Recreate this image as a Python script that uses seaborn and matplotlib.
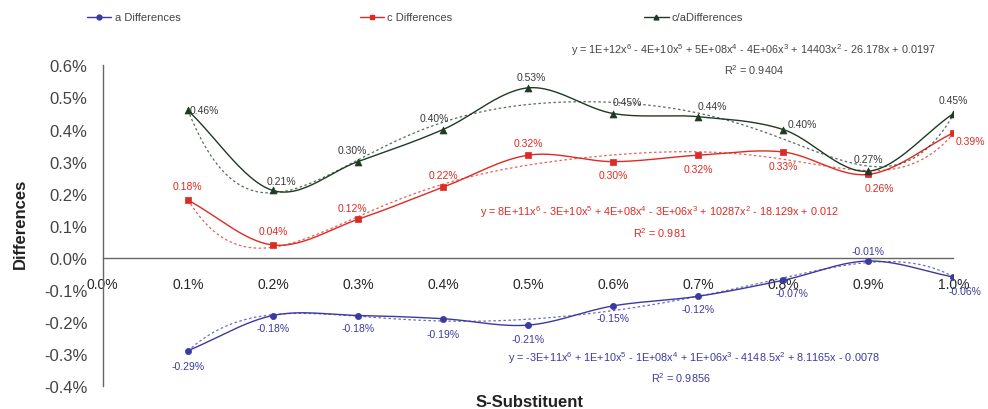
import numpy as np
import pandas as pd
import matplotlib
matplotlib.use("Agg")
import matplotlib.pyplot as plt
import seaborn as sns
from matplotlib.lines import Line2D

# ---- data ----
x_pct = [0.1, 0.2, 0.3, 0.4, 0.5, 0.6, 0.7, 0.8, 0.9, 1.0]
a_diff = [-0.29, -0.18, -0.18, -0.19, -0.21, -0.15, -0.12, -0.07, -0.01, -0.06]
c_diff = [0.18, 0.04, 0.12, 0.22, 0.32, 0.30, 0.32, 0.33, 0.26, 0.39]
ca_diff = [0.46, 0.21, 0.30, 0.40, 0.53, 0.45, 0.44, 0.40, 0.27, 0.45]
y_ticks = [-0.4, -0.3, -0.2, -0.1, 0.0, 0.1, 0.2, 0.3, 0.4, 0.5, 0.6]
x_ticks = [0.0, 0.1, 0.2, 0.3, 0.4, 0.5, 0.6, 0.7, 0.8, 0.9, 1.0]
series_names = ["a Differences", "c Differences", "c/aDifferences"]
eq_ca = "y = 1E+12x$^6$ - 4E+10x$^5$ + 5E+08x$^4$ - 4E+06x$^3$ + 14403x$^2$ - 26.178x + 0.0197"
r2_ca = "R$^2$ = 0.9404"
eq_c = "y = 8E+11x$^6$ - 3E+10x$^5$ + 4E+08x$^4$ - 3E+06x$^3$ + 10287x$^2$ - 18.129x + 0.012"
r2_c = "R$^2$ = 0.981"
eq_a = "y = -3E+11x$^6$ + 1E+10x$^5$ - 1E+08x$^4$ + 1E+06x$^3$ - 4148.5x$^2$ + 8.1165x - 0.0078"
r2_a = "R$^2$ = 0.9856"

sns.set_style("white")
plt.rcParams["font.family"] = ["Liberation Sans", "DejaVu Sans"]
plt.rcParams["mathtext.fontset"] = "custom"
plt.rcParams["mathtext.rm"] = "Liberation Sans"
plt.rcParams["mathtext.it"] = "Liberation Sans"

col_a = "#3a3aa0"
col_c = "#dd2a22"
col_ca = "#1f3a24"


def catmull(xs, ys, n=30, tension=0.5):
    xs = np.asarray(xs, float); ys = np.asarray(ys, float)
    P = np.column_stack([xs, ys])
    P = np.vstack([P[0] - (P[1] - P[0]), P, P[-1] + (P[-1] - P[-2])])
    out = []
    for i in range(1, len(P) - 2):
        p0, p1, p2, p3 = P[i - 1], P[i], P[i + 1], P[i + 2]
        m1 = tension * (p2 - p0)
        m2 = tension * (p3 - p1)
        t = np.linspace(0, 1, n, endpoint=(i == len(P) - 3))[:, None]
        h00 = 2 * t**3 - 3 * t**2 + 1
        h10 = t**3 - 2 * t**2 + t
        h01 = -2 * t**3 + 3 * t**2
        h11 = t**3 - t**2
        out.append(h00 * p1 + h10 * m1 + h01 * p2 + h11 * m2)
    o = np.vstack(out)
    return o[:, 0], o[:, 1]


fig = plt.figure(figsize=(9.88, 4.10), dpi=100)
ax = fig.add_axes([0.104, 0.056, 0.861, 0.782])

series = [(a_diff, col_a, "o", 4), (c_diff, col_c, "s", 5), (ca_diff, col_ca, "^", 5)]
for vals, col, mk, ms in series:
    # trendline: 6th-order polynomial fit
    coef = np.polyfit(x_pct, vals, 6)
    xt = np.linspace(min(x_pct), max(x_pct), 200)
    yt = np.polyval(coef, xt)
    sns.lineplot(x=xt, y=yt, ax=ax, color=col, lw=0.9, linestyle=(0, (2, 2)),
                 alpha=0.75, sort=False, errorbar=None)
    sx, sy = catmull(x_pct, vals)
    sns.lineplot(x=sx, y=sy, ax=ax, color=col, lw=1.0, sort=False, errorbar=None)
    sns.scatterplot(x=x_pct, y=vals, ax=ax, color=col, marker=mk, s=ms * 5,
                    edgecolor=col, linewidth=0.5, zorder=5)

# data labels (offsets in points)
ca_off = [(12, 0), (6, 7), (-4, 8), (-6, 8), (2, 8), (10, 8), (10, 8), (14, 4), (0, 9), (0, 10)]
c_off = [(0, 10), (0, 10), (-4, 8), (0, 9), (0, 9), (0, -10), (0, -10), (0, -10), (8, -10), (12, -6)]
a_off = [(0, -11), (0, -9), (0, -9), (0, -11), (0, -10), (0, -9), (0, -9), (6, -9), (0, 7), (8, -10)]
for vals, col, offs in [(ca_diff, "#3a3a3a", ca_off), (c_diff, col_c, c_off), (a_diff, col_a, a_off)]:
    for xv, yv, (dx, dy) in zip(x_pct, vals, offs):
        ax.annotate(f"{yv:.2f}%", (xv, yv), xytext=(dx, dy), textcoords="offset points",
                    ha="center", va="center", fontsize=7.5, color=col)

# trendline equations
ax.text(0.765, 0.650, eq_ca, ha="center", va="center", fontsize=7.8, color="#444444")
ax.text(0.765, 0.590, r2_ca, ha="center", va="center", fontsize=7.8, color="#444444")
ax.text(0.655, 0.145, eq_c, ha="center", va="center", fontsize=7.8, color=col_c)
ax.text(0.655, 0.080, r2_c, ha="center", va="center", fontsize=7.8, color=col_c)
ax.text(0.695, -0.310, eq_a, ha="center", va="center", fontsize=7.8, color=col_a)
ax.text(0.680, -0.372, r2_a, ha="center", va="center", fontsize=7.8, color=col_a)

# axes
ax.set_xlim(0, 1.0)
ax.set_ylim(-0.4, 0.6)
ax.set_xticks(x_ticks)
ax.set_xticklabels([f"{v:.1f}%" for v in x_ticks], fontsize=12, color="#444444")
ax.set_yticks(y_ticks)
ax.set_yticklabels([f"{v:.1f}%" for v in y_ticks], fontsize=12, color="#444444")
ax.spines["top"].set_visible(False)
ax.spines["right"].set_visible(False)
ax.spines["bottom"].set_position(("data", 0))
for s in ("left", "bottom"):
    ax.spines[s].set_color("#666666")
    ax.spines[s].set_linewidth(1.0)
ax.tick_params(axis="x", direction="out", length=5, width=1, color="#666666", pad=9)
ax.tick_params(axis="y", direction="out", length=8, width=1, color="#666666", pad=3)
ax.set_xlabel("")
ax.set_ylabel("")
fig.text(0.536, 0.018, "S-Substituent", ha="center", va="center", fontsize=12,
         fontweight="bold", color="#222222")
fig.text(0.021, 0.455, "Differences", ha="center", va="center", rotation=90,
         fontsize=12, fontweight="bold", color="#222222")

# legend (three separate entries across the top)
leg_x = [0.088, 0.364, 0.652]
mk_list = [("o", col_a), ("s", col_c), ("^", col_ca)]
for name, (mk, col), lx in zip(series_names, mk_list, leg_x):
    h = Line2D([], [], color=col, marker=mk, markersize=3.5, lw=1.0)
    lg = fig.legend([h], [name], loc="center left", bbox_to_anchor=(lx, 0.955),
                    frameon=False, fontsize=8, handlelength=2.2, handletextpad=0.3,
                    borderaxespad=0, borderpad=0)
    for t in lg.get_texts():
        t.set_color("#444444")

fig.savefig("out.png", dpi=100)
